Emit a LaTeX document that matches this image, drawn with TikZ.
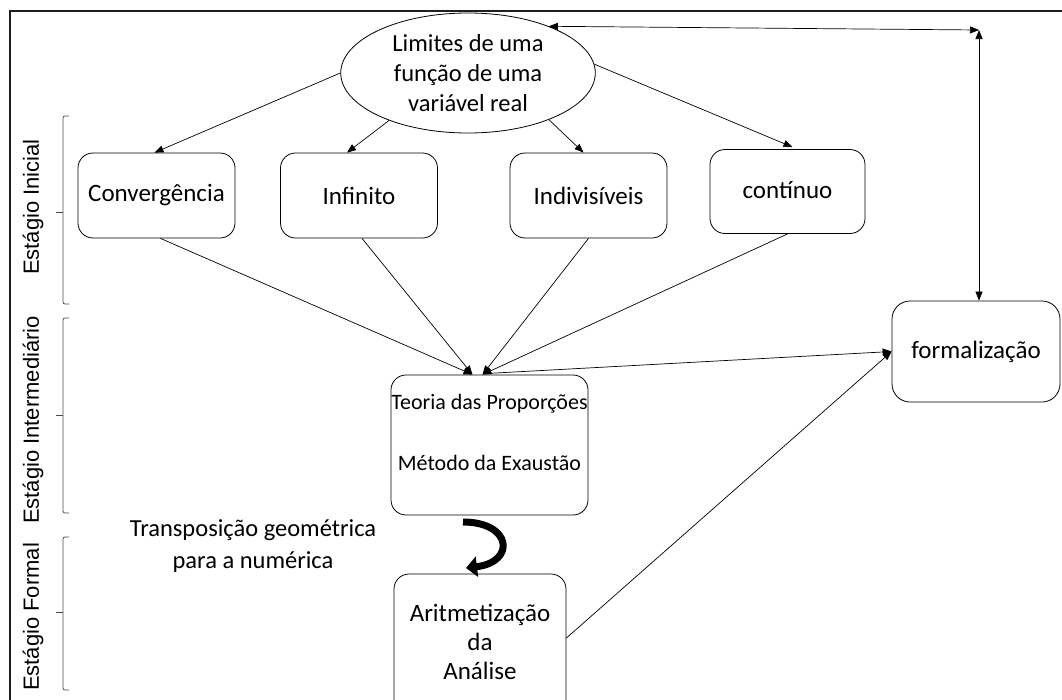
\documentclass[tikz,border=0pt]{standalone}
\usepackage{fontspec}
\setmainfont{Carlito}
\newfontfamily\arialf{Liberation Sans}
\usetikzlibrary{arrows.meta,shapes.geometric,calc}
\begin{document}
\begin{tikzpicture}[x=1pt,y=-1pt,
  rbox/.style={draw, rounded corners=15pt, line width=0.8pt, inner sep=0pt,
    font=\fontsize{25}{30}\selectfont, align=center},
  txt/.style={inner sep=0pt, font=\fontsize{24.5}{30}\selectfont, align=center},
  conn/.style={line width=0.7pt, -{Triangle[length=9pt,width=7pt]}},
  dconn/.style={line width=0.7pt, {Triangle[length=9pt,width=7pt]}-{Triangle[length=9pt,width=7pt]}},
  stage/.style={rotate=90, inner sep=0pt, font=\arialf\fontsize{22}{26}\selectfont},
  brk/.style={line width=0.8pt, black!70, rounded corners=2pt}
]
\useasboundingbox (0,0) rectangle (1062,699);
% frame
\draw[line width=2.5pt, black!88] (10,700) -- (10,11) -- (1063,11);

% top ellipse
\node[draw, ellipse, line width=0.8pt, minimum width=203pt, minimum height=120pt, inner sep=0pt,
  font=\fontsize{24.5}{30}\selectfont, align=center] (lim) at (468,73)
  {\raisebox{-5pt}{\parbox{180pt}{\centering Limites de uma\\ função de uma\\ variável real}}};

% first row boxes
\node[rbox, minimum width=157pt, minimum height=85pt] (conv) at (156.5,195.5) {Convergência};
\node[rbox, minimum width=157pt, minimum height=85pt] (inf) at (359,195.5) {Infinito};
\node[rbox, minimum width=157pt, minimum height=85pt] (indiv) at (588.5,195.5) {Indivisíveis};
\node[rbox, minimum width=155pt, minimum height=84pt] (cont) at (787.5,191.5) {\raisebox{4pt}{contínuo}};

% middle box
\node[rbox, minimum width=197pt, minimum height=140pt] (teoria) at (489.5,445) {};
\node[txt, font=\fontsize{22}{26}\selectfont] (teoria1) at (489.5,404) {Teoria das Proporções};
\node[txt, font=\fontsize{22}{26}\selectfont] (teoria2) at (489.5,463) {Método da Exaustão};

% bottom box
\node[rbox, minimum width=172pt, minimum height=146pt] (arit) at (480,647) {};
\node[txt, font=\fontsize{25}{29}\selectfont] (arittxt) at (480,642) {Aritmetização\\ da\\ Análise};

% right box
\node[rbox, rounded corners=18pt, minimum width=168pt, minimum height=101pt] (form) at (976,351.5) {formalização};

% transposition label
\node[txt, font=\fontsize{24.5}{32}\selectfont] (transp) at (253,546) {Transposição geométrica\\ para a numérica};

% connectors from ellipse
\draw[conn] (lim.west) -- ($(conv.north)+(-2,0)$);
\draw[conn] (lim.211) -- ($(inf.north)+(-12,0)$);
\draw[conn] (lim.-30) -- ($(indiv.north)+(-5,0)$);
\draw[conn] (lim.4) -- ($(cont.north)+(5,-2)$);

% corner connections
\coordinate (C) at (979,30);
\draw[dconn] (lim.30) -- (C);
\draw[dconn] (C) -- (C |- form.north);

% into teoria
\coordinate (T1) at ($(teoria.north)+(-17,0)$);
\coordinate (T2) at ($(teoria.north)+(-7,0)$);
\draw[conn] ($(conv.south)+(4,0)$) -- (T1);
\draw[conn] ($(inf.south)+(3,0)$) -- (T1);
\draw[conn] (indiv.south) -- (T2);
\draw[conn] (cont.south) -- (T2);

% to formalizacao
\draw[conn] ($(T2)+(2,-1)$) -- (form.west);
\draw[conn] ($(arit.east)+(0,-9)$) -- (form.west);

% curved arrow
\draw[line width=7pt, black, -{Triangle[length=11pt,width=20pt]}]
  (463,522) .. controls (512,522) and (516,562) .. (466,568);

% stage brackets
\draw[brk] (69,116) -- (63,116) -- (63,304) -- (69,304);
\draw[brk] (63,212) -- (56,212);
\draw[brk] (69,318) -- (63,318) -- (63,513) -- (69,513);
\draw[brk] (63,415) -- (56,415);
\draw[brk] (69,537) -- (63,537) -- (63,690) -- (69,690);
\draw[brk] (63,612) -- (56,612);

\node[stage] (s1) at (33,207) {Estágio Inicial};
\node[stage] (s2) at (33,420) {Estágio Intermediário};
\node[stage] (s3) at (33,617) {Estágio Formal};
\end{tikzpicture}
\end{document}
